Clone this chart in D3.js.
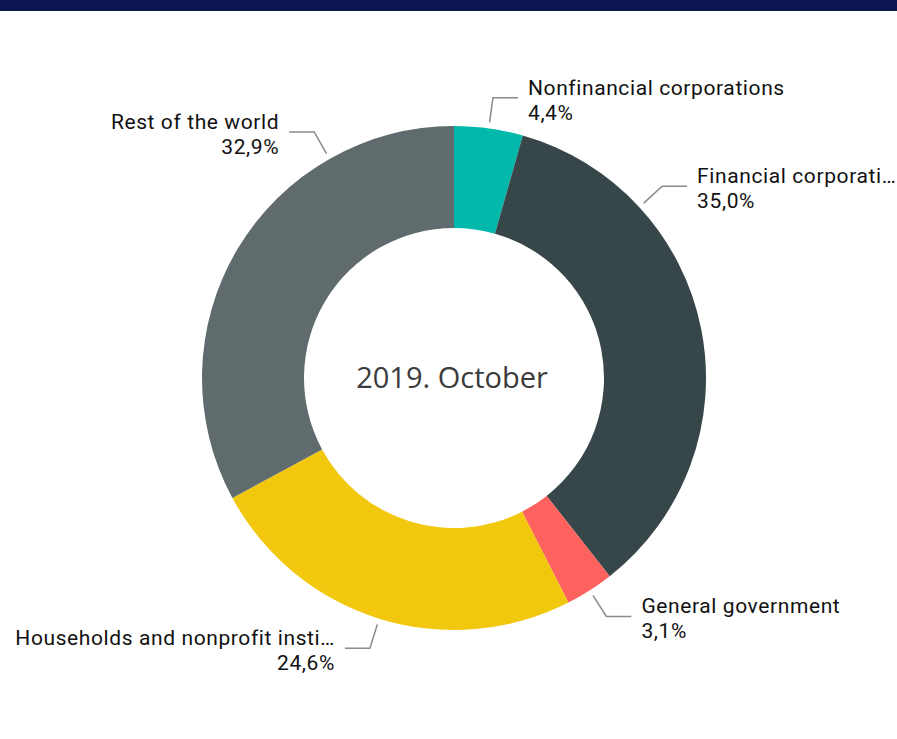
<!DOCTYPE html>
<html>
<head>
<meta charset="utf-8">
<script src="https://cdn.jsdelivr.net/npm/d3@7"></script>
<style>
  html, body { margin: 0; padding: 0; background: #fff; }
  svg { display: block; }
  .lbl { font-family: Roboto, "Noto Sans", sans-serif; font-size: 21px; letter-spacing: 0.6px; fill: #111; }
  .center { font-family: "Open Sans", "Noto Sans", sans-serif; font-size: 29px; fill: #3b3b3b; }
</style>
</head>
<body>
<div id="chart"></div>
<script>
// data
const categories = [
  "Nonfinancial corporations",
  "Financial corporations",
  "General government",
  "Households and nonprofit institutions serving households",
  "Rest of the world"
];
const shares = [4.4, 35.0, 3.1, 24.6, 32.9];
const colors = ["#01B8AA", "#374649", "#FD625E", "#F2C80F", "#5F6B6D"];
const centerLabel = "2019. October";

// where along each slice the leader line leaves the ring (0 = start, 1 = end)
const leaderAt = [0.5, 0.25, 0.5, 0.5, 0.75];

const W = 897, H = 739;
const cx = 454, cy = 378, outerR = 252, innerR = 150;

const svg = d3.select("#chart").append("svg")
  .attr("width", W)
  .attr("height", H);

// top band
svg.append("rect")
  .attr("x", 0).attr("y", 0)
  .attr("width", W).attr("height", 11)
  .attr("fill", "#0C1550");

const g = svg.append("g").attr("transform", `translate(${cx},${cy})`);

const data = categories.map((c, i) => ({ name: c, value: shares[i], color: colors[i], at: leaderAt[i] }));

const pie = d3.pie().sort(null).value(d => d.value);
const arc = d3.arc().innerRadius(innerR).outerRadius(outerR);
const arcs = pie(data);

g.selectAll("path.slice").data(arcs).join("path")
  .attr("class", "slice")
  .attr("d", arc)
  .attr("fill", d => d.data.color);

// centre text
g.append("text")
  .attr("class", "center")
  .attr("text-anchor", "middle")
  .attr("x", -2)
  .attr("y", 10)
  .text(centerLabel);

// labels with leader lines
const fmt = v => d3.format(".1f")(v).replace(".", ",") + "%";
const maxLabelW = 324;

arcs.forEach(d => {
  const a = d.startAngle + (d.endAngle - d.startAngle) * d.data.at;
  const right = a < Math.PI;
  const p0 = d3.pointRadial(a, outerR + 6);
  const p1 = d3.pointRadial(a, outerR + 31);
  const p2 = [p1[0] + (right ? 25 : -25), p1[1]];

  g.append("polyline")
    .attr("points", [p0, p1, p2].map(p => p.join(",")).join(" "))
    .attr("fill", "none")
    .attr("stroke", "#8a8a8a")
    .attr("stroke-width", 1.5);

  const tx = p2[0] + (right ? 10 : -10);
  const t = g.append("text")
    .attr("class", "lbl")
    .attr("text-anchor", right ? "start" : "end");

  const name = t.append("tspan")
    .attr("x", tx)
    .attr("y", p2[1] - 3)
    .text(d.data.name);

  // truncate long names like the original
  const avail = right ? Math.min(maxLabelW, W - (cx + tx)) : Math.min(maxLabelW, cx + tx - 8);
  let s = d.data.name;
  while (name.node().getComputedTextLength() > avail && s.length > 1) {
    s = s.slice(0, -1);
    name.text(s.trimEnd() + "…");
  }

  t.append("tspan")
    .attr("x", tx)
    .attr("y", p2[1] + 22)
    .text(fmt(d.data.value));
});
</script>
</body>
</html>
